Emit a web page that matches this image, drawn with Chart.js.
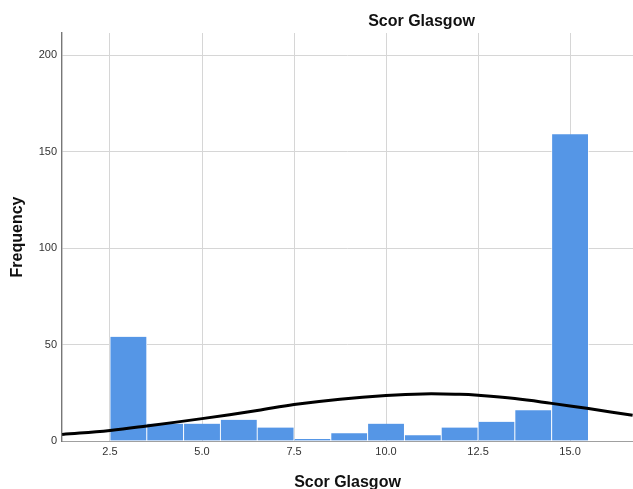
<!DOCTYPE html>
<html>
<head>
<meta charset="utf-8">
<title>Scor Glasgow</title>
<script src="https://cdn.jsdelivr.net/npm/chart.js@4/dist/chart.umd.min.js"></script>
<style>
  html, body { margin: 0; padding: 0; background: #fff; }
  #wrap { position: relative; width: 633px; height: 489px; overflow: hidden; }
  #chartTitle {
    position: absolute; top: 13px; left: 421.5px; transform: translateX(-50%);
    font: bold 16px "Liberation Sans", Arial, sans-serif; color: #111;
    line-height: 16px; white-space: nowrap;
  }
</style>
</head>
<body>
<div id="wrap">
  <canvas id="chart" width="633" height="492"></canvas>
  <div id="chartTitle">Scor Glasgow</div>
</div>
<script>
// Histogram bins (score value) and their counts
const binCenters  = [3, 4, 5, 6, 7, 8, 9, 10, 11, 12, 13, 14, 15];
const frequencies = [54, 9, 9, 11, 7, 1, 4, 9, 3, 7, 10, 16, 159];

// Normal curve overlay, sampled along the score axis
const curveX = [1.2, 2.5, 3.5, 5.0, 6.5, 7.5, 8.75, 10.0, 11.0, 12.0, 12.5, 13.5, 14.5, 15.5, 16.7];
const curveY = [3.4, 5.5, 7.8, 11.6, 15.8, 18.9, 21.7, 23.6, 24.4, 24.2, 23.7, 22.0, 19.5, 16.8, 13.3];

// Axis tick labels
const xTickValues = [2.5, 5.0, 7.5, 10.0, 12.5, 15.0];
const yTickValues = [0, 50, 100, 150, 200];

const FONT = '"Liberation Sans", Arial, sans-serif';
const GRID = '#d6d6d6';

new Chart(document.getElementById('chart'), {
  type: 'bar',
  data: {
    datasets: [
      {
        type: 'line',
        data: curveX.map((x, i) => ({ x: x, y: curveY[i] })),
        borderColor: '#000',
        borderWidth: 3,
        pointRadius: 0,
        tension: 0.4,
        fill: false,
        order: 0
      },
      {
        type: 'bar',
        data: binCenters.map((x, i) => ({ x: x, y: frequencies[i] })),
        backgroundColor: '#5596e6',
        borderColor: '#ffffff',
        borderWidth: { left: 0.8, right: 0.8, top: 0, bottom: 0 },
        borderSkipped: false,
        barPercentage: 1,
        categoryPercentage: 1,
        order: 1
      }
    ]
  },
  options: {
    responsive: false,
    animation: false,
    layout: { padding: { top: 33, right: 0, bottom: 0, left: 0 } },
    plugins: {
      legend: { display: false },
      tooltip: { enabled: false },
      title: { display: false }
    },
    scales: {
      x: {
        type: 'linear',
        min: 1.196,
        max: 16.71,
        offset: false,
        afterBuildTicks: s => { s.ticks = xTickValues.map(v => ({ value: v })); },
        afterFit: s => { s.height = 51; },
        ticks: {
          padding: 4,
          color: '#333',
          font: { family: FONT, size: 11 },
          callback: v => Number(v).toFixed(1),
          maxRotation: 0,
          autoSkip: false
        },
        grid: { color: GRID, lineWidth: 1, drawTicks: false, offset: false },
        border: { color: '#a0a0a0', width: 1 },
        title: {
          display: true,
          text: 'Scor Glasgow',
          color: '#111',
          font: { family: FONT, size: 16, weight: 'bold' },
          padding: { top: 0, bottom: 0 }
        }
      },
      y: {
        type: 'linear',
        min: 0,
        max: 211.5,
        afterBuildTicks: s => { s.ticks = yTickValues.map(v => ({ value: v })); },
        afterFit: s => { s.width = 62; },
        ticks: {
          padding: 5,
          color: '#333',
          font: { family: FONT, size: 11 }
        },
        grid: {
          color: c => (c.tick && c.tick.value === 0 ? 'rgba(0,0,0,0)' : GRID),
          lineWidth: 1,
          drawTicks: false
        },
        border: { color: '#777', width: 1.4 },
        title: {
          display: true,
          text: 'Frequency',
          color: '#111',
          font: { family: FONT, size: 16, weight: 'bold' },
          padding: { top: 8, bottom: 0 }
        }
      }
    }
  }
});
</script>
</body>
</html>
